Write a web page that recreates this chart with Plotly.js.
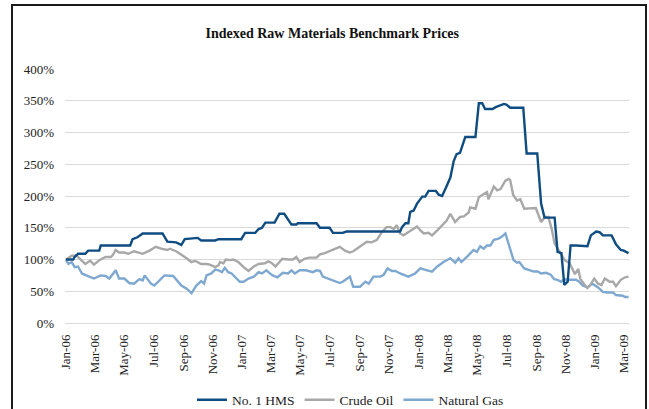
<!DOCTYPE html>
<html>
<head>
<meta charset="utf-8">
<script src="https://cdn.plot.ly/plotly-3.0.1.min.js"></script>
<style>
html,body{margin:0;padding:0;background:#fff;overflow:hidden;}
#chart{width:649px;height:409px;position:absolute;left:0;top:0;}
#frame{position:absolute;left:11px;top:4px;width:632px;height:430px;border:2px solid #1a1a1a;pointer-events:none;}
</style>
</head>
<body>
<div id="chart"></div>
<div id="frame"></div>
<script>
// No. 1 HMS
const hmsDates = ["2006-01-01","2006-01-16","2006-01-19","2006-01-26","2006-02-10","2006-02-16","2006-03-11","2006-03-14","2006-05-14","2006-05-19","2006-05-29","2006-06-09","2006-07-20","2006-07-30","2006-08-17","2006-08-28","2006-09-04","2006-10-01","2006-10-08","2006-11-06","2006-11-13","2006-12-30","2007-01-07","2007-01-28","2007-02-04","2007-02-11","2007-02-18","2007-03-09","2007-03-19","2007-03-29","2007-04-13","2007-04-23","2007-04-26","2007-06-04","2007-06-11","2007-07-01","2007-07-08","2007-07-28","2007-08-05","2007-11-24","2007-11-28","2007-12-05","2007-12-11","2007-12-15","2007-12-22","2007-12-29","2008-01-09","2008-01-15","2008-01-22","2008-02-06","2008-02-12","2008-02-19","2008-02-28","2008-03-07","2008-03-14","2008-03-20","2008-03-27","2008-04-07","2008-04-28","2008-05-05","2008-05-12","2008-05-18","2008-06-02","2008-06-09","2008-06-26","2008-07-01","2008-07-09","2008-08-05","2008-08-12","2008-09-03","2008-09-11","2008-09-18","2008-10-09","2008-10-15","2008-10-23","2008-10-29","2008-11-05","2008-11-11","2008-11-22","2008-12-06","2008-12-16","2008-12-23","2009-01-03","2009-01-10","2009-01-17","2009-02-04","2009-02-13","2009-02-23","2009-03-01","2009-03-11"];
const hmsValues = [100,100,104,109,109,114,114,122,122,132,135,141,141,128,127,123,132,134,130,130,132,132,142,142,148,150,158,158,172,172,155,155,157,157,150,150,142,142,144,144,151,157,157,175,177,188,199,199,208,208,202,200,215,229,255,266,268,293,293,346,346,337,337,340,345,344,339,339,267,267,188,166,166,112,110,60,65,122,122,121,121,138,144,143,138,138,124,115,114,110];

// Crude Oil
const oilDates = ["2006-01-01","2006-01-13","2006-01-23","2006-01-29","2006-02-10","2006-02-20","2006-02-28","2006-03-11","2006-03-24","2006-04-04","2006-04-08","2006-04-14","2006-04-21","2006-05-02","2006-05-10","2006-05-22","2006-06-09","2006-06-23","2006-07-06","2006-07-17","2006-07-30","2006-08-04","2006-08-17","2006-09-04","2006-09-18","2006-09-25","2006-10-08","2006-10-19","2006-10-26","2006-11-06","2006-11-13","2006-11-16","2006-11-23","2006-11-28","2006-12-07","2006-12-13","2006-12-24","2007-01-04","2007-01-14","2007-01-25","2007-02-04","2007-02-17","2007-02-24","2007-03-02","2007-03-11","2007-03-19","2007-03-25","2007-04-06","2007-04-16","2007-04-23","2007-04-30","2007-05-10","2007-05-20","2007-06-04","2007-06-11","2007-06-21","2007-07-05","2007-07-15","2007-07-22","2007-08-02","2007-08-12","2007-08-19","2007-08-26","2007-09-02","2007-09-06","2007-09-16","2007-09-26","2007-10-07","2007-10-17","2007-10-27","2007-11-04","2007-11-11","2007-11-17","2007-11-24","2007-12-01","2007-12-11","2007-12-22","2007-12-29","2008-01-05","2008-01-12","2008-01-22","2008-01-29","2008-02-09","2008-02-19","2008-02-28","2008-03-07","2008-03-17","2008-03-27","2008-04-04","2008-04-14","2008-04-17","2008-04-28","2008-05-05","2008-05-15","2008-05-22","2008-05-25","2008-06-05","2008-06-12","2008-06-19","2008-06-29","2008-07-06","2008-07-09","2008-07-15","2008-07-23","2008-07-30","2008-08-07","2008-08-27","2008-08-31","2008-09-11","2008-09-19","2008-09-26","2008-10-03","2008-10-09","2008-10-15","2008-10-25","2008-10-30","2008-11-09","2008-11-16","2008-11-20","2008-11-27","2008-12-01","2008-12-09","2008-12-16","2008-12-22","2008-12-30","2009-01-07","2009-01-14","2009-01-21","2009-01-31","2009-02-07","2009-02-13","2009-02-23","2009-03-04","2009-03-11"];
const oilValues = [100,106,106,102,93,98,92,99,104,104,107,115,111,111,109,113,109,114,120,117,115,117,113,104,96,98,93,93,92,88,91,96,94,100,99,100,96,88,82,89,93,94,97,95,89,96,101,100,100,104,96,101,103,103,108,110,115,118,120,114,111,113,117,120,122,128,127,131,143,151,151,148,154,141,138,143,148,152,146,141,142,138,146,154,161,172,159,167,168,174,182,180,198,203,206,195,215,209,211,224,227,225,202,193,195,180,180,181,159,167,167,148,125,117,104,99,94,83,77,85,70,61,55,60,70,62,60,70,65,65,58,68,72,73];

// Natural Gas
const gasDates = ["2006-01-01","2006-01-06","2006-01-13","2006-01-19","2006-01-26","2006-02-03","2006-02-12","2006-02-28","2006-03-14","2006-03-24","2006-04-01","2006-04-14","2006-04-21","2006-05-02","2006-05-12","2006-05-22","2006-06-02","2006-06-09","2006-06-13","2006-06-26","2006-07-03","2006-07-10","2006-07-24","2006-08-11","2006-08-28","2006-09-08","2006-09-18","2006-09-28","2006-10-08","2006-10-14","2006-10-19","2006-10-29","2006-11-06","2006-11-13","2006-11-20","2006-11-26","2006-12-03","2006-12-10","2006-12-20","2006-12-27","2007-01-04","2007-01-14","2007-01-25","2007-02-04","2007-02-11","2007-02-20","2007-02-26","2007-03-05","2007-03-15","2007-03-26","2007-04-06","2007-04-13","2007-04-20","2007-04-30","2007-05-13","2007-05-27","2007-06-04","2007-06-11","2007-06-17","2007-06-28","2007-07-08","2007-07-22","2007-07-28","2007-08-12","2007-08-19","2007-09-02","2007-09-13","2007-09-20","2007-09-30","2007-10-14","2007-10-21","2007-10-29","2007-11-07","2007-11-14","2007-11-24","2007-12-11","2007-12-25","2008-01-05","2008-01-19","2008-01-29","2008-02-09","2008-02-22","2008-03-07","2008-03-17","2008-03-24","2008-03-30","2008-04-14","2008-04-24","2008-05-01","2008-05-08","2008-05-15","2008-05-22","2008-05-29","2008-06-05","2008-06-15","2008-06-22","2008-06-29","2008-07-06","2008-07-16","2008-07-23","2008-07-28","2008-08-07","2008-08-17","2008-08-27","2008-09-04","2008-09-11","2008-09-21","2008-10-01","2008-10-08","2008-10-15","2008-10-22","2008-10-29","2008-11-09","2008-11-22","2008-11-29","2008-12-06","2008-12-16","2008-12-26","2009-01-07","2009-01-17","2009-01-27","2009-02-07","2009-02-13","2009-02-20","2009-02-27","2009-03-04","2009-03-11"];
const gasValues = [100,93,96,88,89,78,75,70,75,74,70,83,70,70,63,62,69,67,75,62,59,64,75,74,59,54,47,59,66,62,75,78,84,83,80,87,80,78,70,65,65,70,73,80,78,83,79,75,72,79,78,83,78,83,83,80,83,82,73,70,67,63,65,73,57,57,65,62,73,73,76,86,82,82,78,73,78,86,83,81,89,96,102,95,102,96,107,115,112,121,117,122,122,131,133,136,141,125,99,95,96,86,83,81,81,78,79,76,69,68,65,69,68,68,65,59,56,62,56,49,48,48,44,44,43,41,41];

const seriesNames = ["No. 1 HMS", "Crude Oil", "Natural Gas"];
const seriesColors = ["#0f4c81", "#a8a8a8", "#7fa8d0"];
const yTickVals = [0, 50, 100, 150, 200, 250, 300, 350, 400];
const yTickText = ["0%", "50%", "100%", "150%", "200%", "250%", "300%", "350%", "400%"];

const font = "'Liberation Serif', 'Times New Roman', serif";
const traces = [
  {x: hmsDates, y: hmsValues},
  {x: oilDates, y: oilValues},
  {x: gasDates, y: gasValues}
].map((d, i) => ({
  x: d.x, y: d.y, type: "scatter", mode: "lines", name: seriesNames[i],
  line: {color: seriesColors[i], width: 2.4}
}));
const data = [traces[2], traces[1], traces[0]];
data[0].legendrank = 3; data[1].legendrank = 2; data[2].legendrank = 1;

const layout = {
  width: 649, height: 409,
  margin: {l: 65, r: 20, t: 69, b: 86},
  paper_bgcolor: "#ffffff", plot_bgcolor: "#ffffff",
  font: {family: font, size: 13, color: "#222"},
  title: {text: "<b>Indexed Raw Materials Benchmark Prices</b>", font: {family: font, size: 14, color: "#111"},
          x: 0.512, xanchor: "center", y: 0.92, yanchor: "middle"},
  xaxis: {
    type: "date", range: ["2005-12-30", "2009-03-12"], automargin: false,
    tick0: "2006-01-01", dtick: "M2", tickformat: "%b-%y", tickangle: -90,
    showgrid: false, zeroline: false, showline: false, ticks: "",
    ticklabelstandoff: 8, tickfont: {family: font, size: 13, color: "#222"}
  },
  yaxis: {
    range: [0, 400], tickvals: yTickVals, ticktext: yTickText, automargin: false,
    showgrid: true, gridcolor: "#d9d9d9", gridwidth: 1,
    zeroline: true, zerolinecolor: "#d9d9d9", zerolinewidth: 1,
    showline: false, ticks: "", ticklabelstandoff: 10,
    tickfont: {family: font, size: 13, color: "#222"}
  },
  showlegend: true,
  legend: {orientation: "h", xref: "container", yref: "container", x: 0.54, xanchor: "center",
           y: 0.022, yanchor: "middle", itemwidth: 30,
           font: {family: font, size: 13.5, color: "#222"}, traceorder: "normal", bgcolor: "rgba(0,0,0,0)"}
};
Plotly.newPlot("chart", data, layout, {displayModeBar: false, staticPlot: true});
</script>
</body>
</html>
